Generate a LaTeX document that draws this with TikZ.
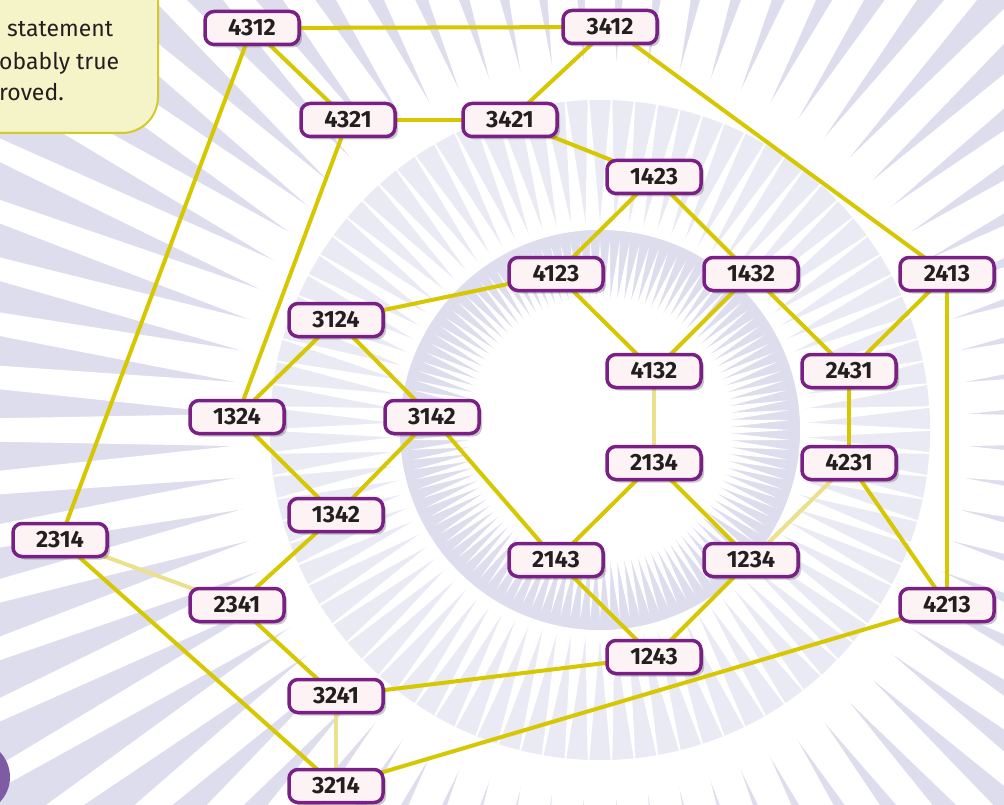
\documentclass[tikz,border=0pt]{standalone}
\usepackage{fontspec}
\setmainfont{Fira Sans}
\newfontfamily\fira{Fira Sans}
\usetikzlibrary{shadows}
\definecolor{lav}{RGB}{221,221,238}
\definecolor{lavlight}{RGB}{234,234,245}
\definecolor{pborder}{RGB}{122,31,134}
\definecolor{pfill}{RGB}{253,243,245}
\definecolor{ptext}{RGB}{35,31,32}
\definecolor{yel}{RGB}{214,199,0}
\definecolor{paleyel}{RGB}{235,224,140}
\definecolor{callfill}{RGB}{245,243,200}
\definecolor{callborder}{RGB}{210,202,40}
\definecolor{dotpurple}{RGB}{126,92,165}
\pgfdeclarelayer{bg}
\pgfdeclarelayer{edges}
\pgfsetlayers{bg,edges,main}
\tikzset{
  perm/.style={draw=pborder, line width=3.5pt, fill=pfill, rounded corners=9pt,
    minimum width=94pt, minimum height=33pt, inner sep=0pt, text=ptext,
    font=\fira\bfseries\fontsize{23.5}{23.5}\selectfont,
    drop shadow={shadow xshift=3pt, shadow yshift=-3pt, opacity=0.3, fill=black!70}},
  edge/.style={draw=yel, line width=4pt},
  paleedge/.style={draw=paleyel, line width=4pt},
  calltext/.style={anchor=base west, inner sep=0pt, text=ptext, font=\fira\fontsize{23}{23}\selectfont}
}
\begin{document}
\begin{tikzpicture}[x=1pt,y=-1pt]
\clip (0,0) rectangle (1004,805);
\begin{pgfonlayer}{bg}
  \fill[lav] (0,0) rectangle (1004,805);
  \begin{scope}[shift={(600,430)}]
    \foreach \a in {0,5,...,355} {
      \fill[white] (\a-2.9:330) -- (\a+2.9:330) -- (\a:1250) -- cycle;
    }
    \fill[lavlight] (0,0) circle (330);
    \foreach \a in {0,4,...,356} {
      \fill[white] (\a-2.2:200) -- (\a+2.2:200) -- (\a:345) -- cycle;
    }
    \fill[lav] (0,0) circle (200);
    \foreach \a in {0,3,...,357} {
      \fill[white] (\a-1.6:130) -- (\a+1.6:130) -- (\a:190) -- cycle;
    }
    \fill[white] (0,0) circle (132);
  \end{scope}
  % callout box
  \draw[fill=callfill, draw=callborder, line width=2pt, rounded corners=36pt] (-80,-80) rectangle (158,133);
  \node[calltext] (c1) at (7,37) {statement};
  \node[calltext] (c2) at (-1,70) {obably true};
  \node[calltext] (c3) at (-1,101) {roved.};
  % purple circle
  \fill[dotpurple] (-26,777) circle (36);
\end{pgfonlayer}

\node[perm] (n4312) at (252,28) {4312};
\node[perm] (n3412) at (610,27) {3412};
\node[perm] (n4321) at (348,120) {4321};
\node[perm] (n3421) at (510,120) {3421};
\node[perm] (n1423) at (654,177) {1423};
\node[perm] (n4123) at (556,274) {4123};
\node[perm] (n1432) at (751,274) {1432};
\node[perm] (n2413) at (947,274) {2413};
\node[perm] (n3124) at (336,320) {3124};
\node[perm] (n4132) at (654,371) {4132};
\node[perm] (n2431) at (849,371) {2431};
\node[perm] (n1324) at (237,417) {1324};
\node[perm] (n3142) at (432,417) {3142};
\node[perm] (n2134) at (654,463) {2134};
\node[perm] (n4231) at (849,463) {4231};
\node[perm] (n1342) at (336,515) {1342};
\node[perm] (n2314) at (60,540) {2314};
\node[perm] (n2143) at (556,560) {2143};
\node[perm] (n1234) at (751,560) {1234};
\node[perm] (n2341) at (237,605) {2341};
\node[perm] (n4213) at (947,605) {4213};
\node[perm] (n1243) at (654,657) {1243};
\node[perm] (n3241) at (336,696) {3241};
\node[perm] (n3214) at (336,786) {3214};

\begin{pgfonlayer}{edges}
  \draw[edge] (n4312.center) -- (n3412.center);
  \draw[edge] (n4312.center) -- (n4321.center);
  \draw[edge] (n4312.center) -- (n2314.center);
  \draw[edge] (n3412.center) -- (n3421.center);
  \draw[edge] (n3412.center) -- (n2413.center);
  \draw[edge] (n4321.center) -- (n3421.center);
  \draw[edge] (n4321.center) -- (n1324.center);
  \draw[edge] (n3421.center) -- (n1423.center);
  \draw[edge] (n1423.center) -- (n4123.center);
  \draw[edge] (n1423.center) -- (n1432.center);
  \draw[edge] (n4123.center) -- (n3124.center);
  \draw[edge] (n4123.center) -- (n4132.center);
  \draw[edge] (n1432.center) -- (n4132.center);
  \draw[edge] (n1432.center) -- (n2431.center);
  \draw[edge] (n2413.center) -- (n2431.center);
  \draw[edge] (n2413.center) -- (n4213.center);
  \draw[edge] (n3124.center) -- (n1324.center);
  \draw[edge] (n3124.center) -- (n3142.center);
  \draw[paleedge] (n4132.center) -- (n2134.center);
  \draw[edge] (n2431.center) -- (n4231.center);
  \draw[edge] (n1324.center) -- (n1342.center);
  \draw[edge] (n3142.center) -- (n1342.center);
  \draw[edge] (n3142.center) -- (n2143.center);
  \draw[edge] (n2134.center) -- (n2143.center);
  \draw[edge] (n2134.center) -- (n1234.center);
  \draw[paleedge] (n4231.center) -- (n1234.center);
  \draw[edge] (n4231.center) -- (n4213.center);
  \draw[edge] (n1342.center) -- (n2341.center);
  \draw[paleedge] (n2314.center) -- (n2341.center);
  \draw[edge] (n2314.center) -- (n3214.center);
  \draw[edge] (n2143.center) -- (n1243.center);
  \draw[edge] (n1234.center) -- (n1243.center);
  \draw[edge] (n2341.center) -- (n3241.center);
  \draw[edge] (n1243.center) -- (n3241.center);
  \draw[edge] (n4213.center) -- (n3214.center);
  \draw[paleedge] (n3241.center) -- (n3214.center);
\end{pgfonlayer}
\end{tikzpicture}
\end{document}
